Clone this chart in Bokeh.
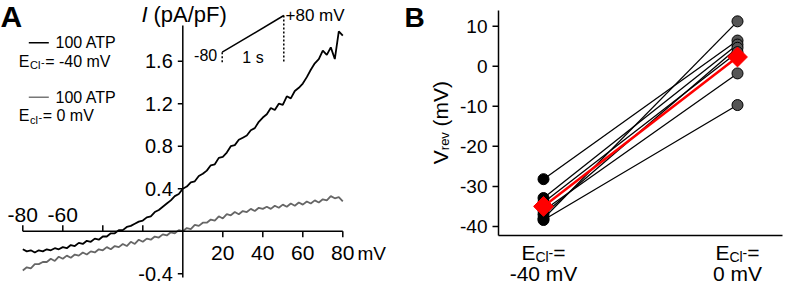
import math
from bokeh.plotting import figure
from bokeh.models import Range1d, Label
from bokeh.embed import file_html
from bokeh.resources import INLINE

# ---------------- Panel A data (I-V ramps) ----------------
voltage_mv = list(range(-80, 81, 2))
i_black = [-0.17, -0.19, -0.18, -0.20, -0.18, -0.19, -0.17, -0.18, -0.16, -0.17,
           -0.15, -0.16, -0.13, -0.14, -0.11, -0.12, -0.09, -0.10, -0.07, -0.08,
           -0.05, -0.05, -0.02, -0.02, 0.01, 0.01, 0.04, 0.05, 0.07, 0.09,
           0.10, 0.13, 0.14, 0.18, 0.20, 0.23, 0.26, 0.29, 0.33, 0.35,
           0.40, 0.42, 0.46, 0.47, 0.52, 0.54, 0.57, 0.62, 0.63, 0.69,
           0.70, 0.74, 0.80, 0.81, 0.86, 0.88, 0.90, 0.95, 0.97, 1.03,
           1.07, 1.10, 1.16, 1.14, 1.20, 1.19, 1.27, 1.25, 1.32, 1.35,
           1.39, 1.45, 1.52, 1.58, 1.62, 1.70, 1.66, 1.73, 1.62, 1.88,
           1.84]
i_gray = [-0.37, -0.34, -0.35, -0.31, -0.31, -0.29, -0.29, -0.26, -0.28, -0.24,
          -0.26, -0.23, -0.25, -0.22, -0.23, -0.20, -0.22, -0.19, -0.20, -0.17,
          -0.18, -0.15, -0.17, -0.14, -0.15, -0.12, -0.14, -0.10, -0.12, -0.08,
          -0.10, -0.07, -0.08, -0.05, -0.06, -0.03, -0.04, -0.01, -0.02, 0.01,
          0.00, 0.03, 0.02, 0.06, 0.05, 0.08, 0.08, 0.11, 0.10, 0.14,
          0.12, 0.16, 0.15, 0.18, 0.16, 0.19, 0.18, 0.21, 0.19, 0.22,
          0.21, 0.23, 0.21, 0.24, 0.22, 0.25, 0.23, 0.26, 0.24, 0.27,
          0.25, 0.28, 0.26, 0.29, 0.27, 0.30, 0.29, 0.33, 0.31, 0.32,
          0.28]
xa_ticks = [-80, -60, -40, -20, 20, 40, 60, 80]
xa_tick_labels = ["-80", "-60", "", "", "20", "40", "60", "80"]
ya_ticks = [-0.4, 0.4, 0.8, 1.2, 1.6]
ya_tick_labels = ["-0.4", "0.4", "0.8", "1.2", "1.6"]
legend_names = ["100 ATP", "100 ATP"]
legend_subs = ["Cl", "cl"]
legend_ecl = ["= -40 mV", "= 0 mV"]
ramp_t = [0, 1]
ramp_v = [-80, 80]

# ---------------- Panel B data (reversal potentials) ----------------
cond_x = [0, 1]
cond_labels = ["-40 mV", "0 mV"]
vrev_m40 = [-28.2, -32.9, -38.0, -37.0, -36.0, -38.4, -34.0]
vrev_0 = [6.4, 5.4, 11.2, 4.6, -1.8, -9.7, 3.5]
vrev_mean = [-35.0, 2.3]
yb_ticks = [-40, -30, -20, -10, 0, 10]
yb_tick_labels = ["-40", "-30", "-20", "-10", "0", "10"]

FONT = "Liberation Sans"
W, H = 787, 284
# approximate Arial / Liberation Sans advance widths (em) for composed labels
EM = {"C": 0.722, "c": 0.5, "l": 0.222}

# panel A scale (pixel <-> data)
AX0, AY0, SX, SY = 182.3, 230.7, 2.0, 106.25


def ax(px):
    return (px - AX0) / SX


def ay(py):
    return (AY0 - py) / SY


# panel B scale (pixel <-> data), handled as extra ranges
BC0, BSX, BY0, BSY = 543.0, 194.0, 65.7, 4.006


def bx(px):
    return (px - BC0) / BSX


def by(py):
    return (BY0 - py) / BSY


p = figure(width=W, height=H, x_range=Range1d(ax(0), ax(W)),
           y_range=Range1d(ay(H), ay(0)), output_backend="svg",
           toolbar_location=None, x_axis_location=None, y_axis_location=None,
           min_border=0, outline_line_color=None, background_fill_color="white",
           border_fill_color="white")
p.extra_x_ranges = {"b": Range1d(bx(0), bx(W))}
p.extra_y_ranges = {"b": Range1d(by(H), by(0))}
p.grid.visible = False

B = dict(x_range_name="b", y_range_name="b")


def lab(x, y, text, size, align="left", baseline="middle", style="normal",
        angle=0.0, color="black", xoff=0, panel="a"):
    kw = dict(x_range_name="b", y_range_name="b") if panel == "b" else {}
    p.add_layout(Label(x=x, y=y, text=text, text_font=FONT, text_font_size=size,
                       text_align=align, text_baseline=baseline,
                       text_font_style=style, angle=angle, text_color=color,
                       x_offset=xoff, **kw))


# ================= Panel A =================
p.line(voltage_mv, i_gray, line_color="#666666", line_width=1.8)
p.line(voltage_mv, i_black, line_color="black", line_width=1.8)

p.segment(x0=[xa_ticks[0]], y0=[0], x1=[xa_ticks[-1]], y1=[0],
          line_color="black", line_width=1.5)
p.segment(x0=[0], y0=[ay(277)], x1=[0], y1=[ay(25)], line_color="black", line_width=1.5)
tl = 6 / SY
p.segment(x0=xa_ticks, y0=[0] * len(xa_ticks), x1=xa_ticks,
          y1=[tl if t < 0 else -tl for t in xa_ticks], line_color="black", line_width=1.5)
p.segment(x0=[0] * len(ya_ticks), y0=ya_ticks, x1=[-5 / SX] * len(ya_ticks), y1=ya_ticks,
          line_color="black", line_width=1.5)
for t, s in zip(xa_ticks, xa_tick_labels):
    if s:
        lab(t, ay(214) if t < 0 else ay(252.3), s, "21px", align="center")
lab(ax(357), ay(253), "mV", "19px")
for t, s in zip(ya_ticks, ya_tick_labels):
    lab(ax(172.3), t, s, "20px", align="right")

lab(ax(141.0), ay(14), "I", "22px", style="italic")
lab(ax(153), ay(14), "(pA/pF)", "22px")
lab(ax(0), ay(-1), "A", "30px", baseline="top", style="bold")

# legend
leg_y = [42.3, 96.7]
leg_col = ["black", "#777777"]
for k in range(2):
    y0 = leg_y[k]
    p.segment(x0=[ax(28.3)], y0=[ay(y0)], x1=[ax(48.3)], y1=[ay(y0)],
              line_color=leg_col[k], line_width=1.5)
    lab(ax(55), ay(y0), legend_names[k], "16px")
    y1 = y0 + 18.5
    lab(ax(18.3), ay(y1), "E", "16px")
    sub_x = 29.5
    lab(ax(sub_x), ay(y1 + 4), legend_subs[k], "11px")
    minus_x = sub_x + sum(EM[ch] for ch in legend_subs[k]) * 11 + 0.5
    lab(ax(minus_x), ay(y1 + 1), "-", "11px")
    lab(ax(minus_x + 4.3), ay(y1), legend_ecl[k], "16px")


# voltage-ramp inset
def rx(t):
    return ax(221.7 + (t - ramp_t[0]) / (ramp_t[1] - ramp_t[0]) * 61.6)


def ry(v):
    return ay(51.7 - (v - ramp_v[0]) / (ramp_v[1] - ramp_v[0]) * 36.7)


p.line([rx(t) for t in ramp_t], [ry(v) for v in ramp_v], line_color="black", line_width=1.5)
p.segment(x0=[rx(ramp_t[0]), rx(ramp_t[1])], y0=[ry(ramp_v[0]), ry(ramp_v[1])],
          x1=[rx(ramp_t[0]), rx(ramp_t[1])], y1=[ay(62), ay(62)],
          line_color="black", line_width=1.5, line_dash="2 2")
lab(ax(216.7), ay(54), f"{ramp_v[0]}", "16px", align="right")
lab((rx(ramp_t[0]) + rx(ramp_t[1])) / 2, ay(57), f"{ramp_t[1] - ramp_t[0]} s", "16px",
    align="center")
lab(ax(285), ay(15), f"+{ramp_v[1]} mV", "17px")

# ================= Panel B =================
p.segment(x0=[bx(498)], y0=[by(235)], x1=[bx(498)], y1=[by(10)],
          line_color="black", line_width=1.5, **B)
p.segment(x0=[bx(498)], y0=[by(235)], x1=[bx(782)], y1=[by(235)],
          line_color="black", line_width=1.5, **B)
p.segment(x0=[bx(498)] * len(yb_ticks), y0=yb_ticks, x1=[bx(492)] * len(yb_ticks),
          y1=yb_ticks, line_color="black", line_width=1.5, **B)
for t, s in zip(yb_ticks, yb_tick_labels):
    lab(bx(487), t, s, "19px", align="right", panel="b")

n = len(vrev_m40)
p.segment(x0=[cond_x[0]] * n, y0=vrev_m40, x1=[cond_x[1]] * n, y1=vrev_0,
          line_color="black", line_width=1.3, **B)
p.scatter([cond_x[0]] * n, vrev_m40, size=11, fill_color="black", line_color="black", **B)
p.scatter([cond_x[1]] * n, vrev_0, size=11, fill_color="#555555", line_color="black",
          line_width=1, **B)
p.line(cond_x, vrev_mean, line_color="#ff0000", line_width=2.5, **B)
p.scatter(cond_x, vrev_mean, marker="square", angle=math.pi / 4, size=14,
          fill_color="#ff0000", line_color="#ff0000", **B)

# y label (rotated, with subscript)
lab(bx(440), by(163.7), "V", "21px", baseline="alphabetic", angle=math.pi / 2, panel="b")
lab(bx(444), by(149.7), "rev", "13px", baseline="alphabetic", angle=math.pi / 2, panel="b")
lab(bx(440), by(125.9), "(mV)", "21px", baseline="alphabetic", angle=math.pi / 2, panel="b")

# category labels
for cx, s in zip(cond_x, cond_labels):
    lab(cx, by(251.7), "E", "21px", xoff=-22.1, panel="b")
    lab(cx, by(256.0), "Cl", "14px", xoff=-8.1, panel="b")
    lab(cx, by(252.5), "-", "14px", xoff=5.1, panel="b")
    lab(cx, by(251.7), "=", "21px", xoff=9.8, panel="b")
    lab(cx, by(273.3), s, "21px", align="center", panel="b")

lab(bx(404), by(1), "B", "28px", baseline="top", style="bold", panel="b")

open("out.html", "w").write(file_html(p, INLINE))
